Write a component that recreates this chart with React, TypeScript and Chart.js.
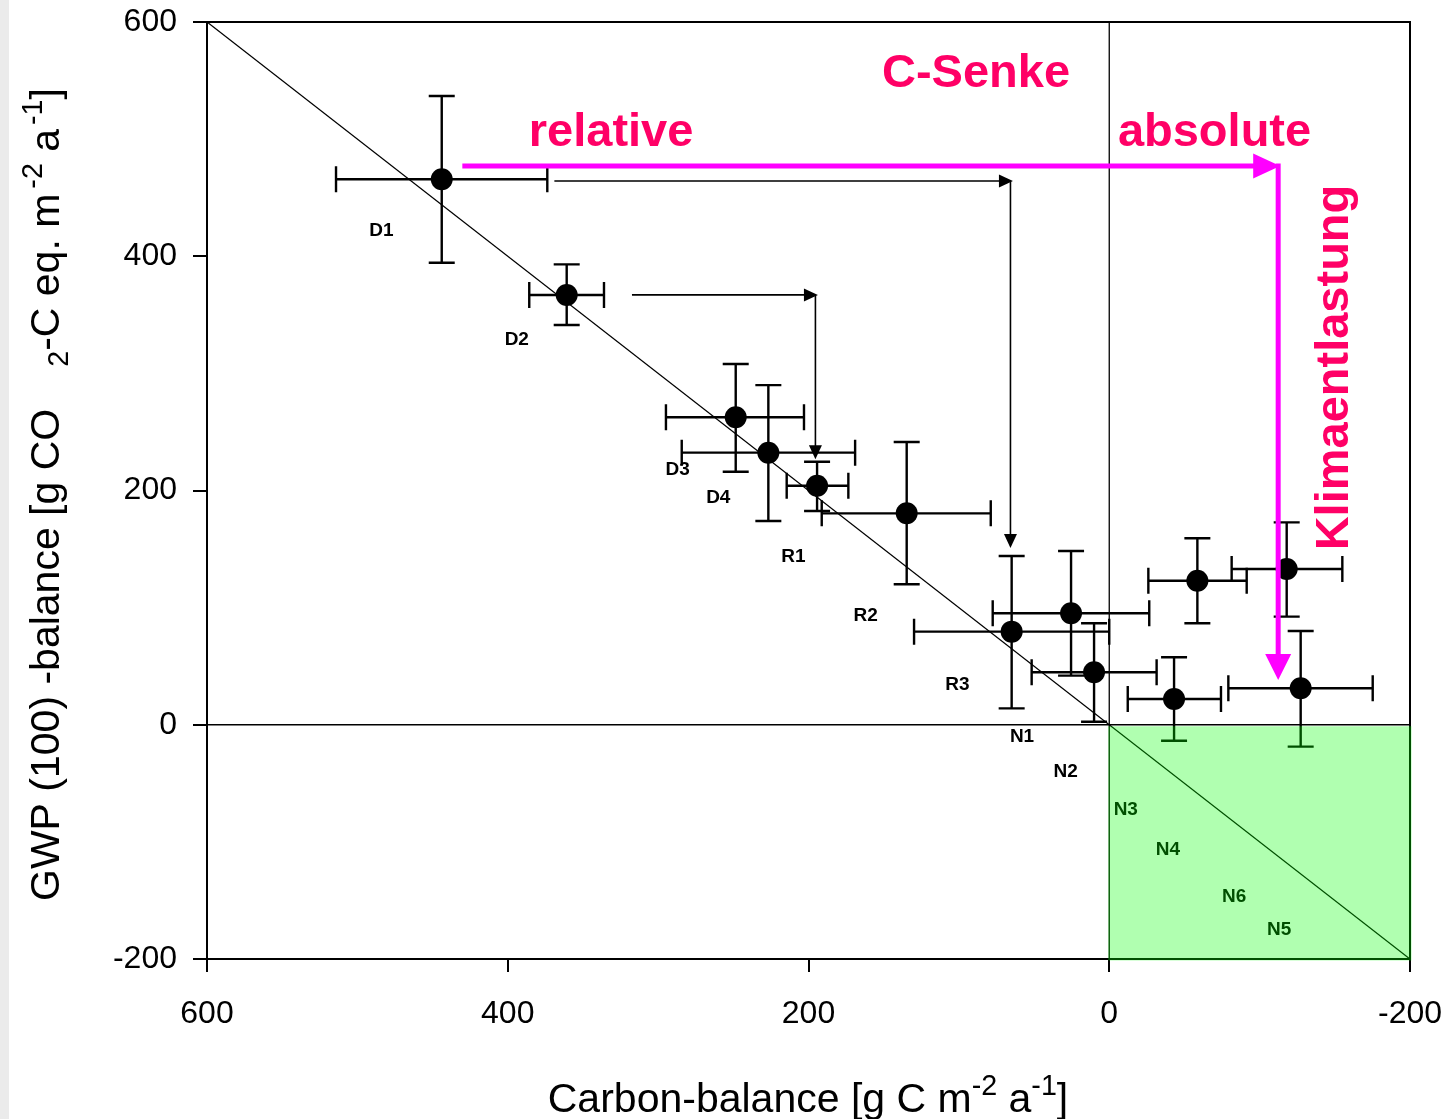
import React, { useEffect, useRef } from "react";
import { Chart, registerables } from "chart.js";

Chart.register(...registerables);

const FONT = "'Liberation Sans', Arial, Helvetica, sans-serif";

// Sites: drained (D), rewetted (R), near-natural (N)
const siteNames = ["D1", "D2", "D3", "D4", "R1", "R2", "R3", "N1", "N2", "N3", "N4", "N5", "N6"];

// Carbon balance [g C m-2 a-1] with error range
const carbonBalance = [443.9, 360.8, 248.4, 226.7, 194.3, 134.7, 64.9, 25.4, 10.1, -43.1, -58.6, -127.3, -118.0];
const carbonLow = [373.7, 336.0, 203.0, 169.0, 173.5, 78.8, 0.0, -26.6, -31.5, -74.3, -91.4, -175.2, -155.0];
const carbonHigh = [514.2, 385.7, 294.8, 284.3, 214.5, 191.2, 129.8, 77.5, 51.6, -12.3, -26.0, -79.2, -81.4];

// GWP(100) balance [g CO2-C eq. m-2 a-1] with error range
const gwpBalance = [465.7, 366.9, 262.5, 232.3, 204.0, 180.5, 79.5, 95.2, 44.8, 22.0, 123.0, 31.1, 133.0];
const gwpLow = [394.5, 341.3, 216.0, 174.0, 182.5, 119.9, 14.0, 41.9, 2.6, -13.6, 86.6, -18.7, 92.3];
const gwpHigh = [536.8, 393.1, 308.0, 290.0, 224.6, 241.4, 144.1, 148.4, 86.6, 57.6, 159.2, 80.0, 172.8];

// Where each site name is written (data units)
const labelCarbon = [484, 394, 287, 260, 210, 162, 101, 58, 29, -11, -39, -113, -83];
const labelGwp = [422, 329, 218, 194, 143, 93, 34, -10, -40, -73, -107, -175, -147];

// Axis ticks
const axisMin = -200;
const axisMax = 600;
const tickStep = 200;

// 1:1 line end points
const identityLine = [600, -200];

// "relative" arrows: start carbon, level, corner carbon, end GWP
const relStartCarbon = [369, 317.4];
const relLevel = [464.2, 367];
const relCornerCarbon = [64.7, 194.4];
const relEndGwp = [151, 226.6];

// "absolute" arrow
const absStartCarbon = 430.2;
const absLevel = 477;
const absCornerCarbon = -113;
const absEndGwp = 38.2;

// Annotation texts and their anchors (data units)
const annotationTexts = ["C-Senke", "relative", "absolute"];
const annotationCarbon = [88.6, 331.3, -70];
const annotationGwp = [544.5, 494.1, 494.1];
const sideText = "Klimaentlastung";
const sideCarbon = -158.8;
const sideGwp = 305;

const PINK = "#ff0066";
const MAGENTA = "#ff00ff";

type Run = { text?: string; small?: boolean; shift?: number; gap?: number };

const xTitleRuns: Run[] = [
  { text: "Carbon-balance [g C m" },
  { text: "-2", small: true, shift: -0.42 },
  { text: " a" },
  { text: "-1", small: true, shift: -0.42 },
  { text: "]" },
];

const yTitleRuns: Run[] = [
  { text: "GWP (100) -balance [g CO" },
  { gap: 42 },
  { text: "2", small: true, shift: 0.22 },
  { text: "-C eq. m" },
  { gap: 5 },
  { text: "-2", small: true, shift: -0.42 },
  { text: " a" },
  { gap: 4 },
  { text: "-1", small: true, shift: -0.42 },
  { text: "]" },
];

function runsWidth(ctx: CanvasRenderingContext2D, runs: Run[], size: number) {
  let w = 0;
  for (const r of runs) {
    if (r.gap) {
      w += r.gap;
      continue;
    }
    ctx.font = `${r.small ? size * 0.7 : size}px ${FONT}`;
    w += ctx.measureText(r.text || "").width;
  }
  return w;
}

function drawRuns(ctx: CanvasRenderingContext2D, runs: Run[], size: number, x0: number, y0: number, angle: number) {
  ctx.save();
  ctx.translate(x0, y0);
  ctx.rotate(angle);
  ctx.textAlign = "left";
  ctx.textBaseline = "alphabetic";
  ctx.fillStyle = "#000";
  let cx = 0;
  for (const r of runs) {
    if (r.gap) {
      cx += r.gap;
      continue;
    }
    const s = r.small ? size * 0.7 : size;
    ctx.font = `${s}px ${FONT}`;
    ctx.fillText(r.text || "", cx, (r.shift || 0) * size);
    cx += ctx.measureText(r.text || "").width;
  }
  ctx.restore();
}

function arrowHead(ctx: CanvasRenderingContext2D, tx: number, ty: number, dx: number, dy: number, len: number, half: number) {
  const bx = tx - dx * len;
  const by = ty - dy * len;
  ctx.beginPath();
  ctx.moveTo(tx, ty);
  ctx.lineTo(bx - dy * half, by + dx * half);
  ctx.lineTo(bx + dy * half, by - dx * half);
  ctx.closePath();
  ctx.fill();
}

// Keep the plot area fixed: scales report no extra label overhang
function noOverhang(s: any) {
  s.paddingTop = 0;
  s.paddingBottom = 0;
  s.paddingLeft = 0;
  s.paddingRight = 0;
}

const chartDecor = {
  id: "chartDecor",
  beforeDatasetsDraw(chart: any) {
    const { ctx, chartArea: ca } = chart;
    const x = chart.scales.x;
    const y = chart.scales.y;
    ctx.save();
    // frame: top and right edges
    ctx.strokeStyle = "#000";
    ctx.lineWidth = 2;
    ctx.beginPath();
    ctx.moveTo(ca.left - 1, ca.top);
    ctx.lineTo(ca.right, ca.top);
    ctx.lineTo(ca.right, ca.bottom);
    ctx.stroke();

    // error bars
    ctx.lineWidth = 2.4;
    const cap = 13;
    for (let i = 0; i < siteNames.length; i++) {
      const cx = x.getPixelForValue(carbonBalance[i]);
      const cy = y.getPixelForValue(gwpBalance[i]);
      const xl = x.getPixelForValue(carbonLow[i]);
      const xh = x.getPixelForValue(carbonHigh[i]);
      const yl = y.getPixelForValue(gwpLow[i]);
      const yh = y.getPixelForValue(gwpHigh[i]);
      ctx.beginPath();
      ctx.moveTo(xl, cy);
      ctx.lineTo(xh, cy);
      ctx.moveTo(cx, yl);
      ctx.lineTo(cx, yh);
      ctx.moveTo(xl, cy - cap);
      ctx.lineTo(xl, cy + cap);
      ctx.moveTo(xh, cy - cap);
      ctx.lineTo(xh, cy + cap);
      ctx.moveTo(cx - cap, yl);
      ctx.lineTo(cx + cap, yl);
      ctx.moveTo(cx - cap, yh);
      ctx.lineTo(cx + cap, yh);
      ctx.stroke();
    }
    ctx.restore();
  },
  afterDatasetsDraw(chart: any) {
    const { ctx } = chart;
    const x = chart.scales.x;
    const y = chart.scales.y;
    ctx.save();

    // site names
    ctx.fillStyle = "#000";
    ctx.font = `bold 19px ${FONT}`;
    ctx.textAlign = "center";
    ctx.textBaseline = "middle";
    for (let i = 0; i < siteNames.length; i++) {
      ctx.fillText(siteNames[i], x.getPixelForValue(labelCarbon[i]), y.getPixelForValue(labelGwp[i]));
    }

    // relative arrows
    ctx.strokeStyle = "#000";
    ctx.fillStyle = "#000";
    ctx.lineWidth = 1.6;
    for (let i = 0; i < relStartCarbon.length; i++) {
      const sx = x.getPixelForValue(relStartCarbon[i]);
      const ly = y.getPixelForValue(relLevel[i]);
      const cx = x.getPixelForValue(relCornerCarbon[i]);
      const ey = y.getPixelForValue(relEndGwp[i]);
      ctx.beginPath();
      ctx.moveTo(sx, ly);
      ctx.lineTo(cx - 12, ly);
      ctx.moveTo(cx - 1.5, ly);
      ctx.lineTo(cx - 1.5, ey - 12);
      ctx.stroke();
      arrowHead(ctx, cx + 1, ly, 1, 0, 14, 6.5);
      arrowHead(ctx, cx - 1.5, ey, 0, 1, 14, 6.5);
    }

    // absolute arrow
    {
      const sx = x.getPixelForValue(absStartCarbon);
      const ly = y.getPixelForValue(absLevel);
      const cx = x.getPixelForValue(absCornerCarbon);
      const ey = y.getPixelForValue(absEndGwp);
      ctx.strokeStyle = MAGENTA;
      ctx.fillStyle = MAGENTA;
      ctx.lineWidth = 5;
      ctx.lineCap = "butt";
      ctx.beginPath();
      ctx.moveTo(sx, ly);
      ctx.lineTo(cx - 20, ly);
      ctx.stroke();
      ctx.beginPath();
      ctx.moveTo(cx - 1, ly - 2.5);
      ctx.lineTo(cx - 1, ey - 20);
      ctx.stroke();
      arrowHead(ctx, cx + 1, ly, 1, 0, 27, 12.5);
      arrowHead(ctx, cx - 1, ey, 0, 1, 26, 13);
    }

    // annotation texts
    ctx.fillStyle = PINK;
    ctx.font = `bold 47px ${FONT}`;
    ctx.textAlign = "center";
    ctx.textBaseline = "alphabetic";
    for (let i = 0; i < annotationTexts.length; i++) {
      ctx.fillText(annotationTexts[i], x.getPixelForValue(annotationCarbon[i]), y.getPixelForValue(annotationGwp[i]));
    }
    ctx.save();
    ctx.translate(x.getPixelForValue(sideCarbon), y.getPixelForValue(sideGwp));
    ctx.rotate(-Math.PI / 2);
    ctx.fillText(sideText, 0, 0);
    ctx.restore();

    // sink quadrant (carbon < 0 and GWP < 0)
    const qx0 = x.getPixelForValue(0) - 1;
    const qx1 = x.getPixelForValue(axisMin) + 1.5;
    const qy0 = y.getPixelForValue(0) + 1.5;
    const qy1 = y.getPixelForValue(axisMin) + 1.5;
    ctx.fillStyle = "rgba(0, 255, 0, 0.31)";
    ctx.fillRect(qx0, qy0, qx1 - qx0, qy1 - qy0);
    ctx.restore();
  },
  afterDraw(chart: any) {
    const { ctx } = chart;
    const size = 41;
    const xw = runsWidth(ctx, xTitleRuns, size);
    drawRuns(ctx, xTitleRuns, size, 808 - xw / 2, 1112, 0);
    drawRuns(ctx, yTitleRuns, size, 59, 901, -Math.PI / 2);
  },
};

export default function App() {
  const ref = useRef<HTMLCanvasElement>(null);

  useEffect(() => {
    const canvas = ref.current;
    if (!canvas) return;
    const points = siteNames.map((_, i) => ({ x: carbonBalance[i], y: gwpBalance[i] }));
    const chart = new Chart(canvas, {
      type: "scatter",
      data: {
        datasets: [
          {
            data: points,
            pointRadius: 11,
            pointHoverRadius: 11,
            backgroundColor: "#000",
            borderWidth: 0,
            showLine: false,
          },
          {
            data: [
              { x: identityLine[0], y: identityLine[0] },
              { x: identityLine[1], y: identityLine[1] },
            ],
            showLine: true,
            borderColor: "#000",
            borderWidth: 1.3,
            pointRadius: 0,
          },
          {
            data: [
              { x: 0, y: axisMin },
              { x: 0, y: axisMax },
            ],
            showLine: true,
            borderColor: "#000",
            borderWidth: 1.3,
            pointRadius: 0,
          },
          {
            data: [
              { x: axisMax, y: 0 },
              { x: axisMin, y: 0 },
            ],
            showLine: true,
            borderColor: "#000",
            borderWidth: 1.3,
            pointRadius: 0,
          },
        ],
      },
      options: {
        responsive: false,
        animation: false,
        devicePixelRatio: 1,
        events: [],
        layout: { padding: { top: 22, right: 38, left: 0, bottom: 0 } },
        plugins: { legend: { display: false }, tooltip: { enabled: false } },
        scales: {
          x: {
            type: "linear",
            min: axisMin,
            max: axisMax,
            reverse: true,
            afterFit: (s: any) => {
              s.height = 160;
              noOverhang(s);
            },
            ticks: {
              stepSize: tickStep,
              color: "#000",
              font: { family: FONT, size: 32 },
              padding: 23,
              maxRotation: 0,
              autoSkip: false,
            },
            grid: { drawOnChartArea: false, drawTicks: true, tickLength: 13, color: "#000", lineWidth: 2 },
            border: { display: true, color: "#000", width: 2 },
          },
          y: {
            type: "linear",
            min: axisMin,
            max: axisMax,
            afterFit: (s: any) => {
              s.width = 207;
              noOverhang(s);
            },
            ticks: {
              stepSize: tickStep,
              color: "#000",
              font: { family: FONT, size: 32 },
              padding: 16,
              autoSkip: false,
            },
            grid: { drawOnChartArea: false, drawTicks: true, tickLength: 14, color: "#000", lineWidth: 2 },
            border: { display: true, color: "#000", width: 2 },
          },
        },
      },
      plugins: [chartDecor],
    });
    return () => chart.destroy();
  }, []);

  return (
    <div style={{ position: "absolute", left: 0, top: 0, width: 1448, height: 1119, background: "#fff", overflow: "hidden" }}>
      <div style={{ position: "absolute", left: 0, top: 0, width: 9, height: 1119, background: "#ebebeb" }} />
      <canvas
        ref={ref}
        width={1448}
        height={1119}
        style={{ position: "absolute", left: 0, top: 0, width: 1448, height: 1119 }}
      />
    </div>
  );
}
